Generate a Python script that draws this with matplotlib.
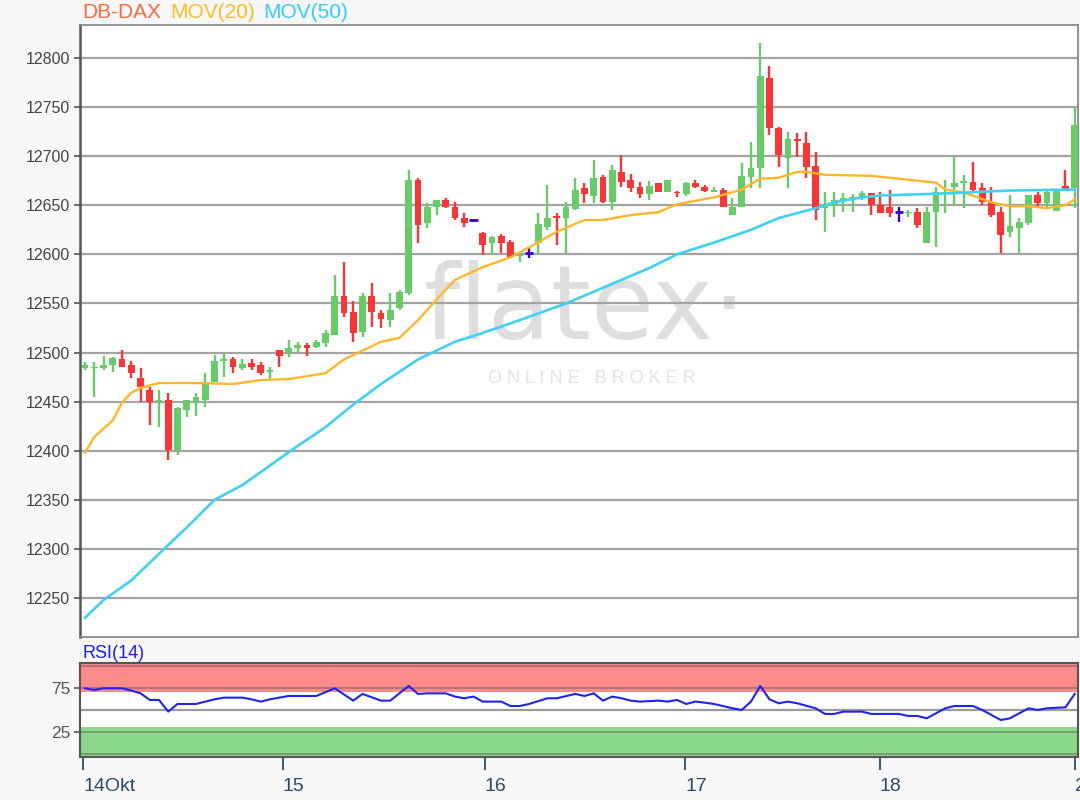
import numpy as np
import matplotlib.pyplot as plt

plt.rcParams['font.family'] = ['Liberation Sans', 'DejaVu Sans']

# OHLC candles (hourly-ish)
opens = [12484, 12484, 12484, 12487, 12493, 12487, 12474, 12462, 12450, 12452,
         12401, 12442, 12450, 12452, 12470, 12491, 12493, 12484, 12489, 12487,
         12480, 12503, 12500, 12505, 12508, 12506, 12510, 12518, 12558, 12541,
         12521, 12558, 12540, 12533, 12545, 12561, 12676, 12632, 12648, 12655,
         12648, 12637, 12635, 12622, 12612, 12619, 12613, 12598, 12601, 12612,
         12628, 12639, 12637, 12646, 12668, 12659, 12679, 12653, 12684, 12676,
         12669, 12661, 12673, 12664, 12664, 12661, 12673, 12669, 12664, 12666,
         12640, 12648, 12679, 12688, 12780, 12729, 12698, 12717, 12713, 12690,
         12647, 12649, 12655, 12657, 12658, 12662, 12650, 12648, 12643, 12642,
         12643, 12612, 12643, 12662, 12669, 12673, 12674, 12668, 12653, 12643,
         12623, 12627, 12632, 12660, 12652, 12644, 12670, 12668]
highs = [12490, 12490, 12496, 12495, 12503, 12491, 12484, 12465, 12462, 12459,
         12445, 12452, 12459, 12479, 12498, 12500, 12495, 12493, 12493, 12490,
         12485, 12503, 12513, 12511, 12510, 12513, 12523, 12579, 12592, 12552,
         12561, 12571, 12543, 12561, 12564, 12686, 12678, 12652, 12655, 12657,
         12653, 12642, 12635, 12623, 12619, 12621, 12615, 12602, 12607, 12642,
         12671, 12642, 12653, 12678, 12673, 12696, 12681, 12691, 12701, 12682,
         12674, 12675, 12673, 12676, 12665, 12674, 12676, 12671, 12669, 12668,
         12657, 12693, 12714, 12815, 12792, 12730, 12725, 12724, 12725, 12704,
         12663, 12663, 12662, 12661, 12665, 12662, 12663, 12666, 12648, 12645,
         12647, 12648, 12669, 12676, 12699, 12681, 12694, 12673, 12669, 12648,
         12660, 12637, 12660, 12663, 12666, 12666, 12686, 12749]
lows = [12482, 12455, 12482, 12480, 12485, 12474, 12450, 12426, 12424, 12391,
        12396, 12434, 12435, 12445, 12470, 12475, 12479, 12482, 12482, 12477,
        12472, 12485, 12495, 12501, 12496, 12505, 12506, 12518, 12536, 12511,
        12516, 12526, 12525, 12526, 12543, 12559, 12612, 12627, 12640, 12647,
        12635, 12628, 12635, 12599, 12600, 12601, 12596, 12592, 12596, 12601,
        12625, 12610, 12601, 12645, 12652, 12652, 12652, 12645, 12669, 12663,
        12657, 12655, 12663, 12664, 12658, 12659, 12668, 12663, 12663, 12648,
        12640, 12648, 12668, 12668, 12722, 12689, 12668, 12699, 12678, 12635,
        12623, 12638, 12643, 12643, 12655, 12640, 12642, 12638, 12633, 12638,
        12627, 12612, 12607, 12642, 12650, 12647, 12664, 12650, 12638, 12601,
        12618, 12601, 12630, 12647, 12648, 12644, 12666, 12647]
closes = [12487, 12485, 12487, 12494, 12485, 12479, 12465, 12450, 12452, 12401,
          12444, 12452, 12455, 12469, 12491, 12493, 12485, 12488, 12485, 12479,
          12482, 12496, 12505, 12508, 12505, 12511, 12520, 12558, 12540, 12520,
          12558, 12541, 12534, 12543, 12562, 12676, 12630, 12648, 12655, 12648,
          12637, 12632, 12635, 12610, 12618, 12612, 12597, 12600, 12601, 12631,
          12637, 12637, 12648, 12666, 12661, 12678, 12653, 12686, 12674, 12668,
          12661, 12670, 12664, 12676, 12662, 12673, 12669, 12665, 12666, 12648,
          12648, 12680, 12688, 12782, 12729, 12701, 12717, 12715, 12689, 12645,
          12650, 12655, 12657, 12658, 12662, 12650, 12642, 12642, 12643, 12643,
          12630, 12643, 12663, 12663, 12673, 12674, 12666, 12653, 12640, 12620,
          12629, 12633, 12660, 12652, 12663, 12666, 12667, 12732]

# moving averages, sampled at candle indices
ma20_idx = [0, 1, 3, 4, 5, 6, 8, 12, 16, 19, 22, 26, 28, 32, 34, 36, 38, 40, 43,
            46, 48, 51, 54, 56, 59, 62, 64, 68, 71, 73, 75, 77, 78, 80, 85, 88,
            90, 92, 93, 95, 98, 100, 102, 104, 106, 107]
ma20_val = [12398, 12414, 12431, 12449, 12459, 12464, 12469, 12469, 12468, 12472,
            12473, 12479, 12493, 12511, 12515, 12533, 12554, 12574, 12587, 12597,
            12607, 12623, 12635, 12635, 12640, 12643, 12651, 12658, 12666, 12677,
            12678, 12684, 12684, 12681, 12680, 12677, 12675, 12673, 12666, 12663,
            12653, 12649, 12649, 12647, 12650, 12656]
ma50_idx = [0, 2, 5, 8, 11, 14, 17, 20, 23, 26, 29, 32, 36, 40, 43, 47, 52, 56,
            61, 64, 68, 72, 75, 79, 81, 84, 86, 93, 100, 107]
ma50_val = [12230, 12248, 12268, 12295, 12322, 12350, 12365, 12385, 12405, 12424,
            12447, 12468, 12493, 12511, 12520, 12533, 12550, 12566, 12586, 12600,
            12612, 12625, 12637, 12647, 12653, 12658, 12660, 12662, 12665, 12666]

# RSI(14)
rsi_idx = [0, 1, 2, 4, 5, 6, 7, 8, 9, 10, 12, 14, 15, 17, 18, 19, 20, 22, 24, 25,
           27, 29, 30, 32, 33, 35, 36, 37, 39, 40, 41, 42, 43, 45, 46, 47, 48, 50,
           51, 53, 54, 55, 56, 57, 58, 59, 60, 62, 63, 64, 65, 66, 67, 68, 70, 71,
           72, 73, 74, 75, 76, 77, 79, 80, 81, 82, 84, 85, 88, 89, 90, 91, 93, 94,
           96, 97, 98, 99, 100, 102, 103, 104, 106, 107]
rsi_val = [74.6, 72.7, 74.6, 74.6, 72.0, 68.9, 61.4, 61.4, 48.1, 56.8, 56.8, 62.1,
           64.0, 64.0, 62.1, 59.5, 62.1, 65.9, 65.9, 65.9, 74.6, 60.6, 68.2, 60.6,
           60.6, 77.3, 68.2, 68.9, 68.9, 65.2, 63.3, 65.2, 59.5, 59.5, 54.5, 54.5,
           56.8, 63.3, 63.3, 68.2, 65.9, 68.9, 60.6, 65.2, 63.3, 60.6, 59.5, 60.6,
           59.5, 61.4, 56.8, 59.5, 58.3, 56.8, 51.9, 50.0, 59.5, 77.3, 62.1, 57.6,
           59.5, 57.6, 51.9, 45.5, 45.5, 48.1, 48.1, 45.5, 45.5, 43.2, 43.2, 40.5,
           51.9, 54.5, 54.5, 50.0, 44.3, 38.6, 40.5, 51.9, 50.0, 51.9, 53.0, 68.2]

day_pos = [-0.2, 21.4, 43.2, 64.9, 85.9, 107.0]
day_labels = ['14Okt', '15', '16', '17', '18', '21']
price_ticks = list(range(12250, 12801, 50))

GREEN = '#66cc66'
RED = '#ff3333'
BLUE = '#3300cc'

fig = plt.figure(figsize=(10.8, 8), dpi=100, facecolor='#f7f7f7')
ax = fig.add_axes([0.0741, 0.2038, 0.924, 0.765])
rx = fig.add_axes([0.0741, 0.0538, 0.924, 0.1175])
xlim = (-0.54, 107.35)

# --- main price panel
ax.set_facecolor('white')
ax.set_xlim(*xlim)
ax.set_ylim(12210.4, 12833.6)
ax.set_yticks(price_ticks)
ax.set_xticks([])
ax.grid(axis='y', color='#a3a3a3', lw=1.6, zorder=0)
ax.tick_params(axis='y', direction='out', length=4, width=1.2, color='#555555',
               labelsize=11.5, labelcolor='#444444', pad=3)
for s in ax.spines.values():
    s.set_color('#8a8a8a')
    s.set_linewidth(1.3)
ax.spines['left'].set_color('#555555')
ax.spines['left'].set_linewidth(1.8)

ax.text(0.506, 0.534, 'flatex\u00b7', transform=ax.transAxes, ha='center', va='center',
        fontsize=74, color='#dedede', zorder=0.5, family='DejaVu Sans')
ax.text(0.513, 0.423, 'O N L I N E   B R O K E R', transform=ax.transAxes, ha='center',
        va='center', fontsize=13, color='#e3e3e3', zorder=0.5)

for i, (o, h, l, c) in enumerate(zip(opens, highs, lows, closes)):
    if c > o:
        col = GREEN
    elif c < o:
        col = RED
    else:
        col = BLUE
    ax.vlines(i, l, h, color=col, lw=1.7, zorder=2)
    if c == o:
        ax.hlines(o, i - 0.45, i + 0.45, color=col, lw=2, zorder=3)
    else:
        ax.bar(i, max(abs(c - o), 1.5), bottom=min(o, c), width=0.74, color=col,
               zorder=3, linewidth=0)

ax.plot(ma20_idx, ma20_val, color='#ffb72a', lw=1.7, zorder=4)
ax.plot(ma50_idx, ma50_val, color='#3dd2f5', lw=1.9, zorder=4)

fig.text(82 / 1080, 1 - 13 / 800, 'DB-DAX', color='#ff6a3d', fontsize=15, va='center')
fig.text(170 / 1080, 1 - 13 / 800, 'MOV(20)', color='#ffbb22', fontsize=15, va='center')
fig.text(263 / 1080, 1 - 13 / 800, 'MOV(50)', color='#33ccff', fontsize=15, va='center')

# --- RSI panel
rx.set_facecolor('white')
rx.set_xlim(*xlim)
rx.set_ylim(-3.4, 103.4)
rx.axhspan(70, 103.4, color='#ff8a8a', lw=0, zorder=0)
rx.axhspan(-3.4, 31, color='#8cd98c', lw=0, zorder=0)
for lv in [0, 25, 75, 100]:
    rx.axhline(lv, color='#555555', alpha=0.45, lw=1.4, zorder=1)
rx.axhline(50, color='#9a9a9a', lw=1.6, zorder=1)
rx.plot(rsi_idx, rsi_val, color='#2222ee', lw=1.5, zorder=3)
rx.set_yticks([25, 75])
rx.tick_params(axis='y', direction='out', length=4, width=1.2, color='#555555',
               labelsize=12.5, labelcolor='#555555', pad=3)
rx.set_xticks(day_pos)
rx.set_xticklabels(day_labels, ha='left')
rx.tick_params(axis='x', direction='out', length=9, width=1.3, color='#2d4a66',
               labelsize=14, labelcolor='#2d4a66', pad=6)
for s in rx.spines.values():
    s.set_color('#555555')
    s.set_linewidth(1.5)

fig.text(82 / 1080, 1 - 653 / 800, 'RSI(14)', color='#1a1aff', fontsize=13, va='center')

fig.savefig('out.png', dpi=100, facecolor=fig.get_facecolor())
